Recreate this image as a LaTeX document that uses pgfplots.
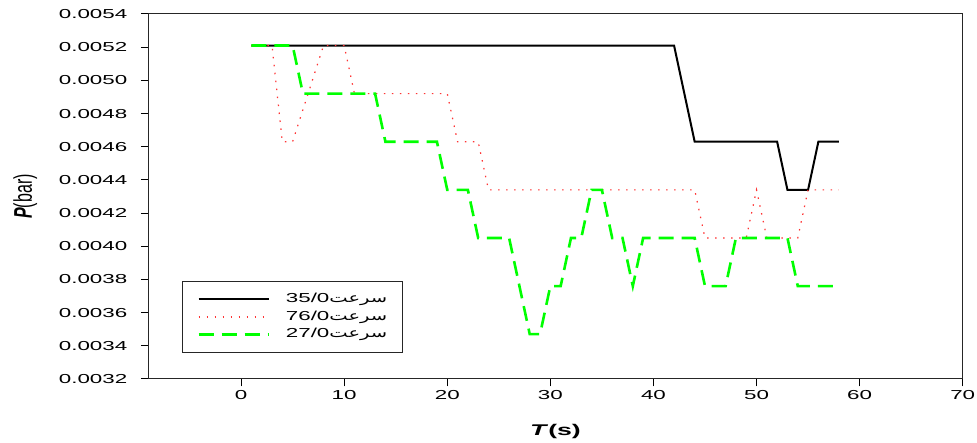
\documentclass[border=0pt]{standalone}
\usepackage{fontspec}
\usepackage{pgfplots}
\usepackage{pgfplotstable}
\pgfplotsset{compat=1.18}
\TeXXeTstate=1
\setmainfont{Liberation Sans}[FakeStretch=1.72]
\newfontfamily\ylfont{Liberation Sans}
\newfontfamily\arabicfont[Script=Arabic,FakeStretch=1.5]{DejaVu Sans}

\pgfplotstableread{
t p
1 0.00521
42 0.00521
44 0.00463
52 0.00463
53 0.00434
55 0.00434
56 0.00463
58 0.00463
}\blackdata

\pgfplotstableread{
t p
1 0.00521
3 0.00521
4 0.00463
5 0.00463
8 0.00521
10 0.00521
11 0.00492
20 0.00492
21 0.00463
23 0.00463
24 0.00434
44 0.00434
45 0.00405
49 0.00405
50 0.00434
51 0.00405
54 0.00405
55 0.00434
58 0.00434
}\reddata

\pgfplotstableread{
t p
1 0.00521
5 0.00521
6 0.00492
13 0.00492
14 0.00463
19 0.00463
20 0.00434
22 0.00434
23 0.00405
26 0.00405
28 0.00347
29 0.00347
30 0.00376
31 0.00376
32 0.00405
33 0.00405
34 0.00434
35 0.00434
36 0.00405
37 0.00405
38 0.00376
39 0.00405
44 0.00405
45 0.00376
47 0.00376
48 0.00405
53 0.00405
54 0.00376
58 0.00376
}\greendata

\begin{document}
\begin{tikzpicture}
\path[use as bounding box] (-148.3pt,-64pt) rectangle (828.7pt,379pt);
\begin{axis}[
  scale only axis,
  width=814.4pt, height=365pt,
  xmin=-9, xmax=70,
  ymin=0.0032, ymax=0.0054,
  xtick={0,10,20,30,40,50,60,70},
  ytick={0.0032,0.0034,0.0036,0.0038,0.0040,0.0042,0.0044,0.0046,0.0048,0.0050,0.0052,0.0054},
  scaled y ticks=false,
  tick pos=left,
  tick align=outside,
  major tick length=7.5pt,
  every tick/.style={black, line width=1pt},
  axis line style={line width=1pt, black!85},
  /pgf/number format/assume math mode=true,
  ticklabel style={font=\fontsize{13}{15}\selectfont},
  yticklabel style={xshift=-10pt, /pgf/number format/fixed, /pgf/number format/precision=4, /pgf/number format/fixed zerofill},
  every axis x label/.style={at={(axis description cs:0.5,-0.145)}, anchor=center},
  every axis y label/.style={at={(axis description cs:-0.151,0.5)}, anchor=center, xscale=1.6, rotate=90},
  xlabel={\fontsize{15.5}{17}\selectfont\textbf{\textit{T}(s)}},
  ylabel={\ylfont\fontsize{16}{18}\selectfont\textbf{\textit{P}}(bar)},
  legend style={
    at={(axis description cs:0.041,0.071)}, anchor=south west,
    draw=black!85, line width=1.2pt,
    inner xsep=15pt, inner ysep=11.5pt,
    row sep=5.2pt,
    font=\fontsize{13}{15}\selectfont,
    nodes={inner sep=0pt, text height=9.5pt, text depth=3pt},
    /tikz/every odd column/.append style={column sep=16pt},
  },
  legend cell align=left,
  legend image code/.code={\draw[#1] (0pt,0pt) -- (70pt,0pt);},
]
\addplot[black, line width=2pt] table[x=t,y=p] {\blackdata};
\addlegendentry{35/0\arabicfont\beginR سرعت\endR}
\addplot[red!80, line width=1.2pt, dash pattern=on 1.5pt off 6.5pt] table[x=t,y=p] {\reddata};
\addlegendentry{76/0\arabicfont\beginR سرعت\endR}
\addplot[green, line width=2.6pt, dash pattern=on 15pt off 8pt] table[x=t,y=p] {\greendata};
\addlegendentry{27/0\arabicfont\beginR سرعت\endR}
\end{axis}
\end{tikzpicture}
\end{document}
